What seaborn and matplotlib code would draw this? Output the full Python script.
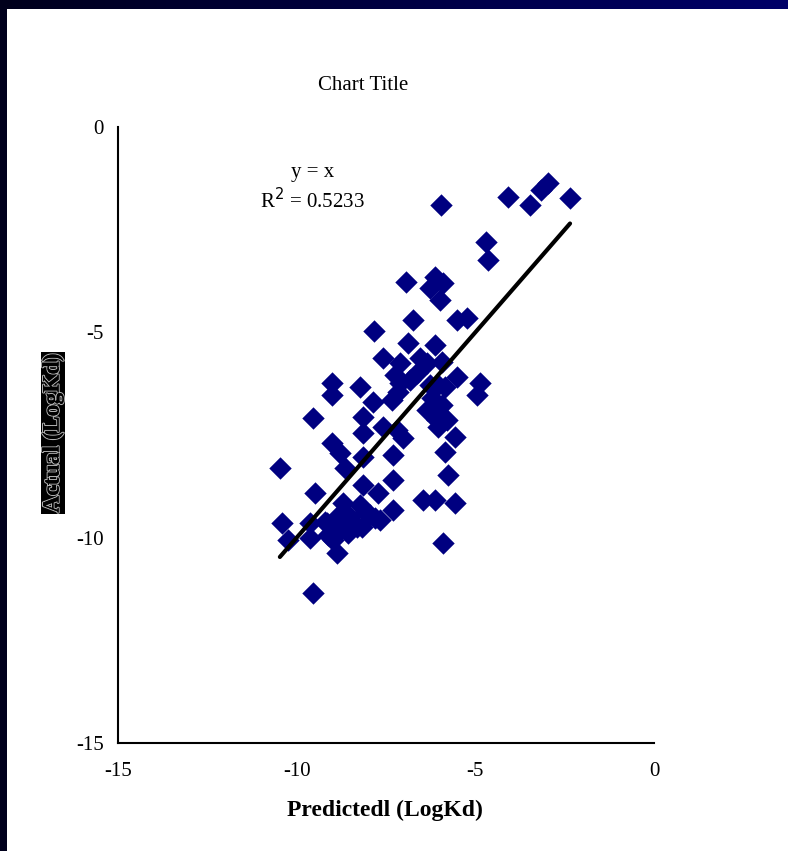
import numpy as np
import pandas as pd
import seaborn as sns
import matplotlib.pyplot as plt
import matplotlib.patheffects as pe
from matplotlib.colors import LinearSegmentedColormap

# values
predicted = [-5.96, -4.09, -3.47, -3.16, -2.97, -2.35, -4.70, -4.64, -6.94, -6.13,
             -5.90, -6.27, -5.99, -5.51, -5.23, -7.84, -6.74, -6.88, -7.58, -7.11,
             -6.55, -6.35, -5.93, -6.13, -9.01, -9.01, -8.23, -7.25, -7.11, -6.83,
             -6.63, -6.27, -5.85, -5.51, -4.87, -4.95, -7.86, -7.33, -6.35, -6.07,
             -5.79, -5.57, -9.54, -8.14, -8.14, -7.58, -7.19, -7.02, -9.01, -8.79,
             -8.14, -7.30, -5.85, -10.47, -5.76, -8.65, -9.49, -8.14, -7.72, -7.30,
             -6.46, -6.13, -5.57, -8.70, -8.23, -7.30, -7.67, -8.87, -8.51, -7.95,
             -10.41, -9.63, -9.15, -10.24, -9.63, -8.79, -8.98, -8.56, -8.31, -8.87,
             -5.90, -9.54, -8.65, -8.09, -7.81, -9.12, -8.17, -9.21, -6.04, -6.21,
             -5.93, -7.16, -6.13, -6.04]
actual = [-1.90, -1.70, -1.90, -1.53, -1.36, -1.73, -2.80, -3.24, -3.77, -3.65,
          -3.80, -3.92, -4.21, -4.70, -4.65, -4.97, -4.70, -5.26, -5.62, -5.75,
          -5.62, -5.75, -5.72, -5.31, -6.23, -6.53, -6.33, -6.04, -6.23, -6.16,
          -5.99, -6.28, -6.33, -6.09, -6.23, -6.53, -6.70, -6.65, -6.89, -7.13,
          -7.13, -7.55, -7.09, -7.06, -7.45, -7.30, -7.38, -7.57, -7.69, -7.94,
          -8.04, -7.99, -7.91, -8.30, -8.47, -8.30, -8.91, -8.72, -8.91, -8.60,
          -9.08, -9.08, -9.16, -9.16, -9.20, -9.33, -9.57, -9.50, -9.50, -9.45,
          -9.64, -9.64, -9.64, -10.06, -10.01, -9.81, -10.06, -9.89, -9.74, -10.37,
          -10.13, -11.35, -9.45, -9.37, -9.52, -9.93, -9.74, -9.62, -7.30, -6.60,
          -6.77, -6.45, -7.01, -6.28]
ticks = [-15, -10, -5, 0]

df = pd.DataFrame({"Predicted": predicted, "Actual": actual})

sns.set_theme(style="white")
plt.rcParams['font.family'] = ['Liberation Serif', 'DejaVu Serif']
plt.rcParams['axes.unicode_minus'] = False
plt.rcParams['text.color'] = 'black'

fig = plt.figure(figsize=(7.88, 8.51), dpi=100)
fig.patch.set_facecolor("white")

# dark frame: gradient bar on top, strip on the left
top = fig.add_axes([0, 1 - 9 / 851, 1, 9 / 851])
grad = np.linspace(0, 1, 256).reshape(1, -1)
cmap = LinearSegmentedColormap.from_list("frame", ["#00001c", "#000068"])
top.imshow(grad, aspect="auto", cmap=cmap)
top.set_axis_off()
left = fig.add_axes([0, 0, 7 / 788, 1 - 9 / 851])
left.set_facecolor("#00001c")
left.set_xticks([])
left.set_yticks([])
for s in left.spines.values():
    s.set_visible(False)

ax = fig.add_axes([118 / 788, 1 - 743 / 851, 536 / 788, 616 / 851])
ax.set_facecolor("white")

sns.lineplot(data=df, x="Predicted", y="Predicted", color="black", lw=3, ax=ax, zorder=3)
sns.scatterplot(data=df, x="Predicted", y="Actual", marker="D", s=130, color="#000080",
                linewidth=0, ax=ax, zorder=2)

ax.set_xlim(-15, 0)
ax.set_ylim(-15, 0)
ax.set_xticks(ticks)
ax.set_yticks(ticks)
ax.set_xticklabels([str(t) for t in ticks], fontsize=15)
ax.set_yticklabels([str(t) for t in ticks], fontsize=15)
ax.tick_params(axis="x", direction="in", length=5, width=1.5, pad=14, colors="black")
ax.tick_params(axis="y", length=0, pad=10, colors="black")
ax.set_xlabel("")
ax.set_ylabel("")
for side in ["top", "right"]:
    ax.spines[side].set_visible(False)
for side in ["left", "bottom"]:
    ax.spines[side].set_color("black")
    ax.spines[side].set_linewidth(1.5)

ax.text(-9.54, -1.12, "y = x", ha="center", va="center", fontsize=15, color="black")
ax.text(-9.57, -1.80, "R$^2$ = 0.5233", ha="center", va="center", fontsize=15, color="black")

fig.text(363 / 788, 1 - 86 / 851, "Chart Title", ha="center", va="center", fontsize=15,
         color="black")
fig.text(385 / 788, 1 - 810 / 851, "Predictedl (LogKd)", ha="center", va="center",
         fontsize=17, fontweight="bold", color="black")
yl = fig.text(53 / 788, 1 - 433 / 851, "Actual (LogKd)", ha="center", va="center",
              rotation=90, fontsize=17, fontweight="bold", color="black",
              bbox=dict(facecolor="black", edgecolor="none", pad=1))
yl.set_path_effects([pe.withStroke(linewidth=1.6, foreground="#b0b0b0"),
                     pe.Normal()])

fig.savefig("out.png", dpi=100, facecolor="white")
